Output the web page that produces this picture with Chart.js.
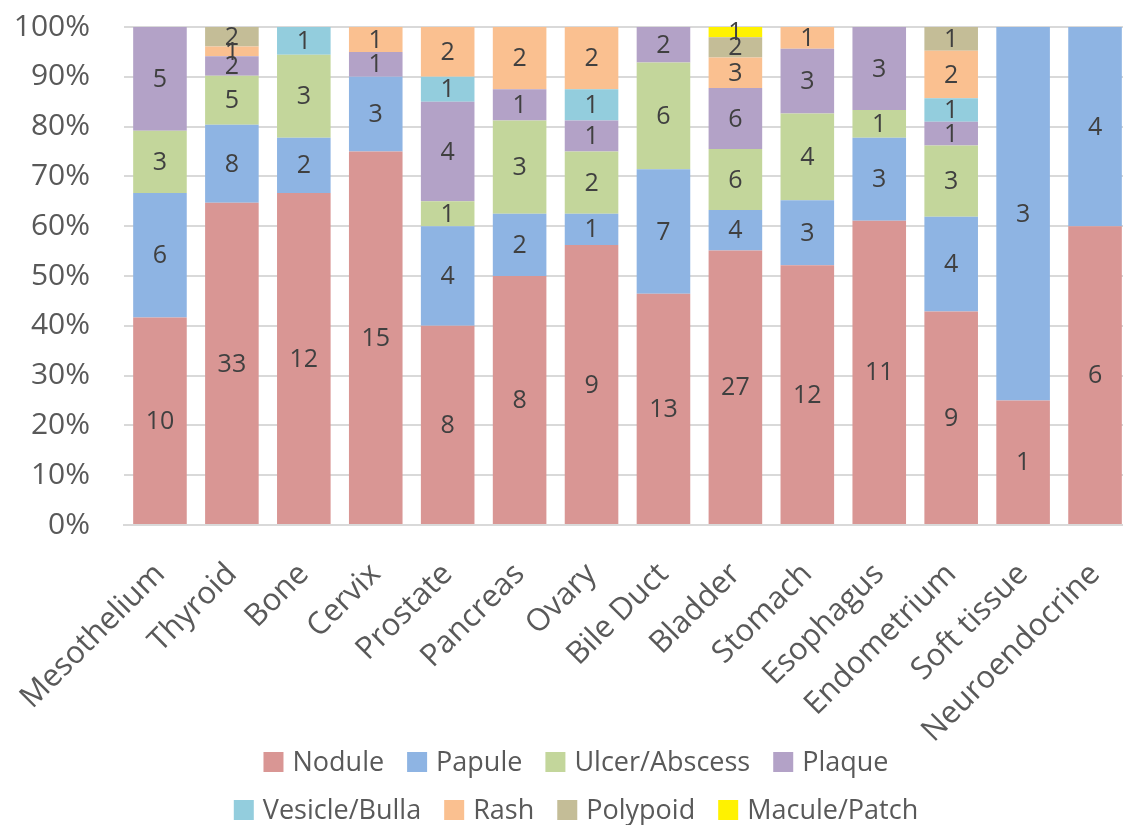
<!DOCTYPE html>
<html>
<head>
<meta charset="utf-8">
<script src="https://cdn.jsdelivr.net/npm/chart.js@4.4.1/dist/chart.umd.min.js"></script>
<style>
  html, body { margin: 0; padding: 0; background: #ffffff; overflow: hidden; }
  #wrap { width: 1123px; height: 825px; overflow: hidden; }
  canvas { display: block; }
</style>
</head>
<body>
<div id="wrap"><canvas id="c" width="1140" height="825"></canvas></div>
<script>
// Tumour sites (categories)
const sites = ['Mesothelium', 'Thyroid', 'Bone', 'Cervix', 'Prostate', 'Pancreas', 'Ovary',
  'Bile Duct', 'Bladder', 'Stomach', 'Esophagus', 'Endometrium', 'Soft tissue', 'Neuroendocrine'];

// Case counts per lesion morphology, one value per site
const nodule   = [10, 33, 12, 15, 8, 8, 9, 13, 27, 12, 11, 9, 1, 6];
const papule   = [6, 8, 2, 3, 4, 2, 1, 7, 4, 3, 3, 4, 3, 4];
const ulcer    = [3, 5, 3, 0, 1, 3, 2, 6, 6, 4, 1, 3, 0, 0];
const plaque   = [5, 2, 0, 1, 4, 1, 1, 2, 6, 3, 3, 1, 0, 0];
const vesicle  = [0, 0, 1, 0, 1, 0, 1, 0, 0, 0, 0, 1, 0, 0];
const rash     = [0, 1, 0, 1, 2, 2, 2, 0, 3, 1, 0, 2, 0, 0];
const polypoid = [0, 2, 0, 0, 0, 0, 0, 0, 2, 0, 0, 1, 0, 0];
const macule   = [0, 0, 0, 0, 0, 0, 0, 0, 1, 0, 0, 0, 0, 0];

const seriesNames  = ['Nodule', 'Papule', 'Ulcer/Abscess', 'Plaque', 'Vesicle/Bulla', 'Rash', 'Polypoid', 'Macule/Patch'];
const seriesCounts = [nodule, papule, ulcer, plaque, vesicle, rash, polypoid, macule];
const seriesColors = ['#D99694', '#8EB4E3', '#C3D69B', '#B3A2C7', '#93CDDD', '#FAC090', '#C4BD97', '#FFF200'];

// Percentage axis ticks
const yTickValues = [0, 10, 20, 30, 40, 50, 60, 70, 80, 90, 100];

const FONT = '"Open Sans", "DejaVu Sans", sans-serif';
const TEXT_GREY = '#595959';

// Totals per site, used to turn counts into shares of 100%
const totals = sites.map((_, i) => seriesCounts.reduce((s, arr) => s + arr[i], 0));

const datasets = seriesNames.map((name, k) => ({
  label: name,
  counts: seriesCounts[k],
  data: seriesCounts[k].map((v, i) => v / totals[i] * 100),
  backgroundColor: seriesColors[k],
  borderWidth: 0,
  categoryPercentage: 1.0,
  barPercentage: 0.745
}));

// Count labels centred in each segment
const segmentLabels = {
  id: 'segmentLabels',
  afterDatasetsDraw(chart) {
    const ctx = chart.ctx;
    ctx.save();
    ctx.font = '25px ' + FONT;
    ctx.fillStyle = '#404040';
    ctx.textAlign = 'center';
    ctx.textBaseline = 'middle';
    chart.data.datasets.forEach((ds, di) => {
      const meta = chart.getDatasetMeta(di);
      meta.data.forEach((bar, i) => {
        const n = ds.counts[i];
        if (!n) return;
        ctx.fillText(String(n), bar.x, (bar.y + bar.base) / 2 + 1);
      });
    });
    ctx.restore();
  }
};

// Two-row legend below the category labels
const bottomLegend = {
  id: 'bottomLegend',
  afterDraw(chart) {
    const ctx = chart.ctx;
    const rows = [[0, 1, 2, 3], [4, 5, 6, 7]];
    const rowY = [762, 810];
    const box = 20, boxGap = 9, itemGap = 23, centreX = 576;
    ctx.save();
    ctx.font = '27px ' + FONT;
    ctx.textBaseline = 'middle';
    ctx.textAlign = 'left';
    rows.forEach((row, r) => {
      const widths = row.map(k => box + boxGap + ctx.measureText(chart.data.datasets[k].label).width);
      const total = widths.reduce((a, b) => a + b, 0) + itemGap * (row.length - 1);
      let x = centreX - total / 2;
      row.forEach((k, j) => {
        const ds = chart.data.datasets[k];
        ctx.fillStyle = ds.backgroundColor;
        ctx.fillRect(x, rowY[r] - box / 2, box, box);
        ctx.fillStyle = TEXT_GREY;
        ctx.fillText(ds.label, x + box + boxGap, rowY[r] + 1);
        x += widths[j] + itemGap;
      });
    });
    ctx.restore();
  }
};

new Chart(document.getElementById('c'), {
  type: 'bar',
  data: { labels: sites, datasets },
  options: {
    responsive: false,
    animation: false,
    layout: { padding: { top: 27, right: 9, bottom: 0, left: 0 } },
    plugins: {
      legend: { display: false },
      tooltip: { enabled: false }
    },
    scales: {
      x: {
        stacked: true,
        grid: { display: false, drawTicks: false },
        border: { display: true, color: '#D9D9D9', width: 2 },
        ticks: {
          color: TEXT_GREY,
          font: { family: FONT, size: 31 },
          minRotation: 45,
          maxRotation: 45,
          autoSkip: false,
          padding: 31
        },
        afterFit(scale) {
          scale.height = 300;
          scale.paddingLeft = 0;
          scale.paddingRight = 0;
        }
      },
      y: {
        stacked: true,
        min: 0,
        max: 100,
        afterBuildTicks(scale) { scale.ticks = yTickValues.map(v => ({ value: v })); },
        grid: { color: '#D9D9D9', lineWidth: 2, drawTicks: false },
        border: { display: false },
        ticks: {
          color: TEXT_GREY,
          font: { family: FONT, size: 30 },
          padding: 34,
          callback: v => v + '%'
        },
        afterFit(scale) {
          scale.width = 124;
          scale.paddingTop = 0;
          scale.paddingBottom = 0;
        }
      }
    }
  },
  plugins: [segmentLabels, bottomLegend]
});
</script>
</body>
</html>
